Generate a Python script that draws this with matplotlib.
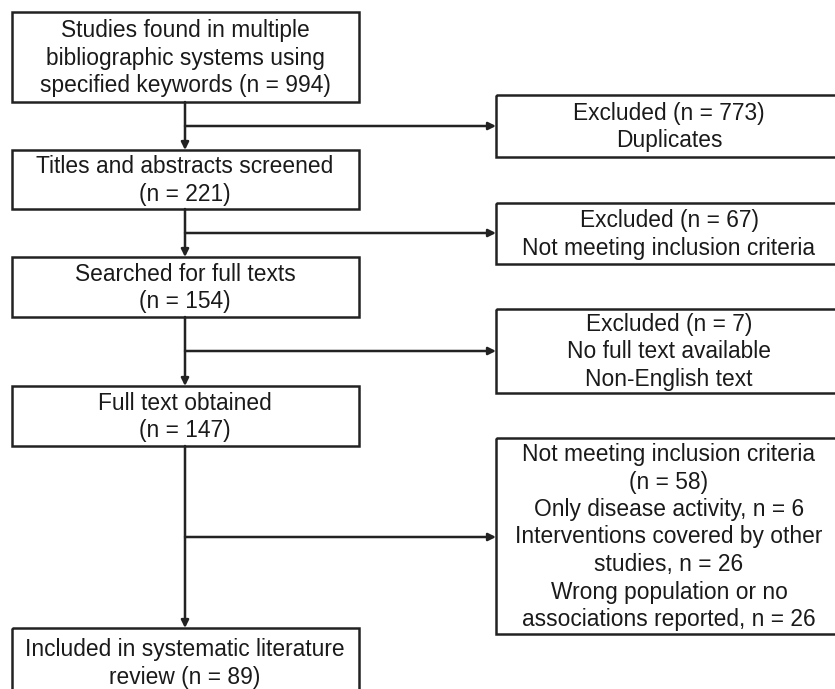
import matplotlib.pyplot as plt
from matplotlib.patches import Rectangle

plt.rcParams['font.family'] = ['Liberation Sans', 'DejaVu Sans']

# flow steps (left column) and exclusions (right column)
main_labels = [
    "Studies found in multiple\nbibliographic systems using\nspecified keywords (n = 994)",
    "Titles and abstracts screened\n(n = 221)",
    "Searched for full texts\n(n = 154)",
    "Full text obtained\n(n = 147)",
    "Included in systematic literature\nreview (n = 89)",
]
excl_labels = [
    "Excluded (n = 773)\nDuplicates",
    "Excluded (n = 67)\nNot meeting inclusion criteria",
    "Excluded (n = 7)\nNo full text available\nNon-English text",
    "Not meeting inclusion criteria\n(n = 58)\nOnly disease activity, n = 6\n"
    "Interventions covered by other\nstudies, n = 26\nWrong population or no\n"
    "associations reported, n = 26",
]

# layout in pixels (top, bottom)
main_y = [(12, 102), (150, 209), (257, 317), (386, 446), (628, 697)]
excl_y = [(95, 157), (203, 264), (309, 393), (438, 634)]
branch_y = [126, 233, 351, 537]
left_x = (12, 359)
right_x = (496, 842)
cx = 185

W, H = 835, 689
fig = plt.figure(figsize=(W / 100, H / 100), dpi=100)
ax = fig.add_axes([0, 0, 1, 1])
ax.set_xlim(0, W)
ax.set_ylim(H, 0)
ax.axis('off')

col = '#222222'
lw = 1.8
fs = 16.4


def box(x0, x1, y0, y1, text, tx):
    ax.add_patch(Rectangle((x0, y0), x1 - x0, y1 - y0, fill=False,
                           edgecolor=col, linewidth=lw))
    ax.text(tx, (y0 + y1) / 2 + 1, text, ha='center', va='center',
            fontsize=fs, color='#1a1a1a', linespacing=1.25)


for (y0, y1), t in zip(main_y, main_labels):
    box(left_x[0], left_x[1], y0, y1, t, cx)
for (y0, y1), t in zip(excl_y, excl_labels):
    box(right_x[0], right_x[1], y0, y1, t, 669)

arrow = dict(arrowstyle='-|>', color=col, lw=lw, mutation_scale=11,
             shrinkA=0, shrinkB=0)
for i in range(len(main_y) - 1):
    ax.annotate('', xy=(cx, main_y[i + 1][0]), xytext=(cx, main_y[i][1]),
                arrowprops=arrow)
for yb in branch_y:
    ax.annotate('', xy=(right_x[0], yb), xytext=(cx, yb), arrowprops=arrow)

fig.savefig('out.png', dpi=100, facecolor='white')
